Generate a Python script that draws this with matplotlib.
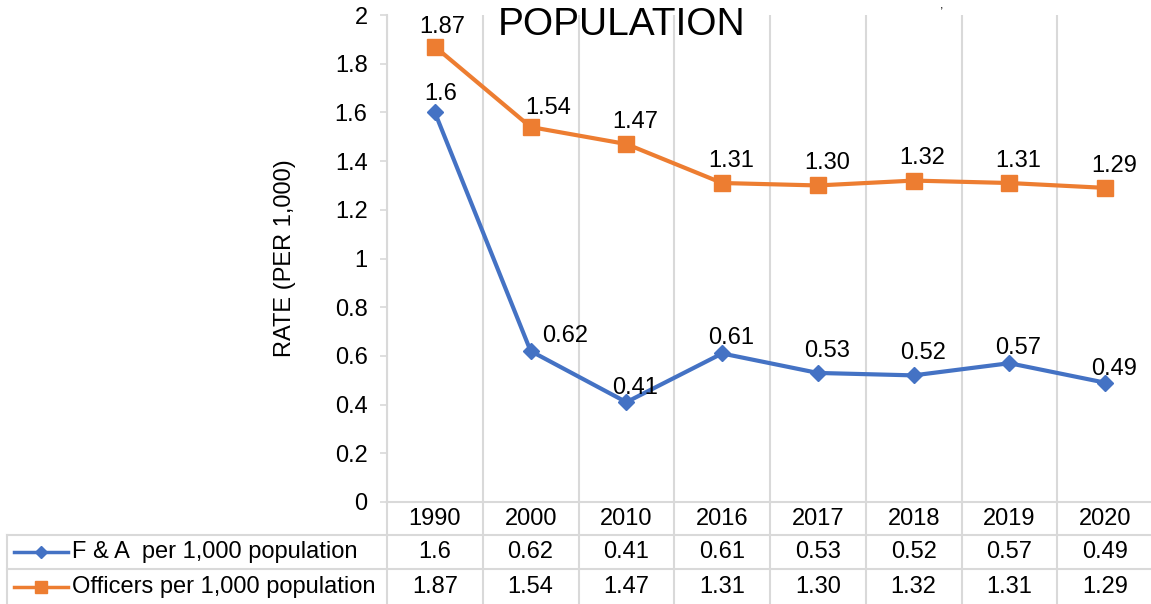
import numpy as np
import matplotlib
matplotlib.use('Agg')
import matplotlib.pyplot as plt
from matplotlib import transforms

plt.rcParams['font.family'] = ['Liberation Sans', 'DejaVu Sans']

# Data
years = ['1990', '2000', '2010', '2016', '2017', '2018', '2019', '2020']
fa_rate = [1.6, 0.62, 0.41, 0.61, 0.53, 0.52, 0.57, 0.49]
officer_rate = [1.87, 1.54, 1.47, 1.31, 1.30, 1.32, 1.31, 1.29]
fa_name = 'F & A  per 1,000 population'
officer_name = 'Officers per 1,000 population'

BLUE = '#4472C4'
ORANGE = '#ED7D31'
GRID = '#D9D9D9'
FS = 17

fig = plt.figure(figsize=(11.51, 6.04), dpi=100)
ax = fig.add_axes([387 / 1151, 1 - 502 / 604, 766 / 1151, 487 / 604])

x = np.arange(len(years))
ax.plot(x, fa_rate, color=BLUE, lw=3, marker='D', ms=8.5, zorder=3)
ax.plot(x, officer_rate, color=ORANGE, lw=3, marker='s', ms=11.5, zorder=3)

ax.set_xlim(-0.5, len(years) - 0.5)
ax.set_ylim(0, 2)
ax.set_yticks(np.arange(0, 2.01, 0.2))
ax.set_yticklabels(['0', '0.2', '0.4', '0.6', '0.8', '1', '1.2', '1.4', '1.6', '1.8', '2'])
ax.tick_params(axis='y', labelsize=FS, length=5, width=1.2, color=GRID, pad=9)
ax.set_xticks([])
ax.set_xticks(np.arange(-0.5, len(years), 1), minor=True)
ax.tick_params(axis='x', which='minor', length=0)
ax.grid(True, axis='x', which='minor', color=GRID, lw=1.5)
for side in ['top', 'right']:
    ax.spines[side].set_visible(False)
for side in ['left', 'bottom']:
    ax.spines[side].set_color(GRID)
    ax.spines[side].set_linewidth(1.5)

# data labels
def label_points(vals, fmt, special):
    for i, v in enumerate(vals):
        dx, dy = special.get(i, (-10, 8))
        ax.annotate(fmt(v), (i, v), xytext=(dx, dy), textcoords='offset points',
                    ha='left', va='bottom', fontsize=FS, zorder=4)

label_points(fa_rate, lambda v: f'{v:g}', {0: (-8, 5), 1: (8, 3), 2: (-10, 2), 3: (-10, 3), 6: (-10, 3), 7: (-10, 2)})
label_points(officer_rate, lambda v: f'{v:.2f}', {0: (-11, 6), 1: (-4, 6)})

fig.text(0.54, 1 - 25 / 604, 'POPULATION', fontsize=28, ha='center', va='center')
# tail of a title line that is cut off above the picture
fig.text(942 / 1151, 1.0, ',', fontsize=9, ha='center', va='top')
fig.text(285 / 1151, 1 - 258 / 604, 'RATE (PER 1,000)', rotation=90,
         fontsize=FS, ha='center', va='center')

# data table below the plot
bt = transforms.blended_transform_factory(ax.transData, fig.transFigure)
y_head = 1 - 519 / 604
y_row1 = 1 - 552 / 604
y_row2 = 1 - 587 / 604
y_line1 = 1 - 535 / 604
y_line2 = 1 - 569 / 604
y_top = 1 - 502 / 604
left_fig = 7 / 1151

for b in np.arange(-0.5, len(years), 1):
    ax.plot([b, b], [0, y_top], transform=bt, color=GRID, lw=1.5, clip_on=False)
for yl in [y_line1, y_line2]:
    fig.add_artist(plt.Line2D([left_fig, 1], [yl, yl], color=GRID, lw=1.5))
fig.add_artist(plt.Line2D([left_fig, left_fig], [0, y_line1], color=GRID, lw=1.5))

for i, yr in enumerate(years):
    ax.text(i, y_head, yr, transform=bt, ha='center', va='center', fontsize=FS)
    ax.text(i, y_row1, f'{fa_rate[i]:g}', transform=bt, ha='center', va='center', fontsize=FS)
    ax.text(i, y_row2, f'{officer_rate[i]:.2f}', transform=bt, ha='center', va='center', fontsize=FS)

# legend keys inside the table
k0, k1, km = 14 / 1151, 68 / 1151, 41 / 1151
fig.add_artist(plt.Line2D([k0, k1], [y_row1, y_row1], color=BLUE, lw=2.5))
fig.add_artist(plt.Line2D([km], [y_row1], color=BLUE, marker='D', ms=6.5))
fig.add_artist(plt.Line2D([k0, k1], [y_row2, y_row2], color=ORANGE, lw=2.5))
fig.add_artist(plt.Line2D([km], [y_row2], color=ORANGE, marker='s', ms=8))
fig.text(72 / 1151, y_row1, fa_name, ha='left', va='center', fontsize=FS)
fig.text(72 / 1151, y_row2, officer_name, ha='left', va='center', fontsize=FS)

fig.savefig('out.png', dpi=100)
